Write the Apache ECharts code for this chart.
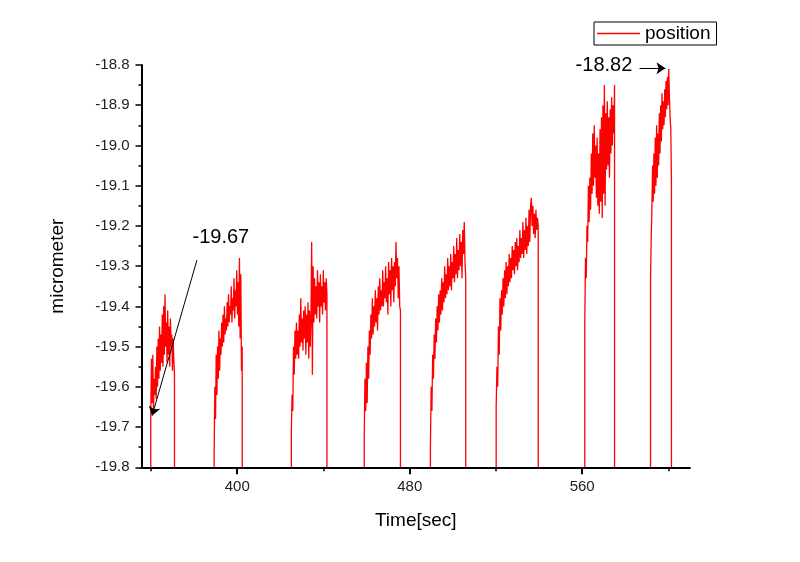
<!DOCTYPE html>
<html>
<head>
<meta charset="utf-8">
<script src="https://cdn.jsdelivr.net/npm/echarts@6/dist/echarts.min.js"></script>
<style>
html,body{margin:0;padding:0;background:#fff;}
#chart{width:800px;height:562px;}
</style>
</head>
<body>
<div id="chart"></div>
<script>
// ---- data ----
const seriesName = 'position';
const xLabelTicks = [400, 480, 560];
const xMinorTicks = [360, 440, 520, 600];
const floorValue = -19.8; // each burst rises from / falls back to the bottom of the range

const burstStart = [359.9, 389.3, 425.1, 458.9, 489.6, 520.1, 561.2, 591.7];
const burstEnd   = [370.9, 402.3, 441.6, 475.7, 506.0, 539.6, 575.0, 601.4];

const burst1 = [-19.67,-19.53,-19.64,-19.52,-19.66,-19.58,-19.62,-19.55,-19.63,-19.50,-19.60,-19.48,-19.58,-19.45,-19.56,-19.47,-19.54,-19.42,-19.55,-19.40,-19.52,-19.37,-19.50,-19.44,-19.54,-19.41,-19.52,-19.45,-19.55,-19.43,-19.50,-19.47,-19.56,-19.48,-19.53,-19.57];
const burst2 = [-19.76,-19.60,-19.68,-19.52,-19.62,-19.50,-19.58,-19.46,-19.56,-19.48,-19.52,-19.44,-19.50,-19.42,-19.49,-19.40,-19.47,-19.43,-19.46,-19.39,-19.45,-19.37,-19.44,-19.40,-19.42,-19.35,-19.44,-19.38,-19.41,-19.33,-19.43,-19.36,-19.40,-19.31,-19.42,-19.34,-19.45,-19.28,-19.48,-19.32,-19.56,-19.50];
const burst3 = [-19.71,-19.62,-19.66,-19.50,-19.57,-19.46,-19.53,-19.44,-19.52,-19.46,-19.53,-19.42,-19.50,-19.38,-19.49,-19.43,-19.51,-19.41,-19.48,-19.40,-19.52,-19.42,-19.49,-19.39,-19.53,-19.41,-19.50,-19.43,-19.24,-19.57,-19.30,-19.44,-19.33,-19.42,-19.35,-19.43,-19.31,-19.40,-19.34,-19.44,-19.32,-19.40,-19.35,-19.42,-19.31,-19.39,-19.34,-19.41,-19.33,-19.37];
const burst4 = [-19.73,-19.58,-19.66,-19.54,-19.64,-19.50,-19.58,-19.46,-19.52,-19.42,-19.48,-19.38,-19.47,-19.40,-19.45,-19.36,-19.44,-19.38,-19.46,-19.35,-19.42,-19.33,-19.41,-19.36,-19.40,-19.31,-19.40,-19.34,-19.38,-19.30,-19.39,-19.33,-19.42,-19.29,-19.37,-19.31,-19.40,-19.28,-19.36,-19.30,-19.39,-19.29,-19.35,-19.24,-19.33,-19.28,-19.38,-19.30,-19.40,-19.41];
const burst5 = [-19.75,-19.60,-19.66,-19.52,-19.58,-19.47,-19.53,-19.43,-19.49,-19.40,-19.46,-19.37,-19.44,-19.36,-19.42,-19.33,-19.41,-19.34,-19.39,-19.30,-19.38,-19.32,-19.37,-19.28,-19.36,-19.30,-19.35,-19.27,-19.36,-19.29,-19.33,-19.25,-19.34,-19.27,-19.32,-19.23,-19.33,-19.26,-19.31,-19.22,-19.30,-19.24,-19.33,-19.21,-19.27,-19.19,-19.29,-19.33];
const burst6 = [-19.65,-19.55,-19.60,-19.45,-19.52,-19.38,-19.46,-19.36,-19.42,-19.33,-19.40,-19.31,-19.38,-19.29,-19.37,-19.30,-19.35,-19.27,-19.34,-19.28,-19.33,-19.25,-19.31,-19.26,-19.32,-19.24,-19.30,-19.23,-19.31,-19.25,-19.29,-19.21,-19.28,-19.23,-19.27,-19.19,-19.28,-19.21,-19.26,-19.18,-19.27,-19.20,-19.25,-19.16,-19.24,-19.15,-19.13,-19.20,-19.15,-19.22,-19.17,-19.23,-19.16,-19.21,-19.18,-19.20];
const burst7 = [-19.44,-19.28,-19.33,-19.20,-19.24,-19.10,-19.19,-19.08,-19.16,-19.02,-19.12,-18.97,-19.10,-18.95,-19.08,-19.00,-19.13,-18.98,-19.15,-19.02,-19.17,-18.96,-19.14,-18.93,-19.18,-18.90,-19.12,-18.85,-19.15,-18.92,-19.06,-18.89,-19.05,-18.93,-19.08,-18.91,-19.02,-18.88,-19.00,-18.90,-18.97,-18.85];
const burst8 = [-19.33,-19.23,-19.16,-19.05,-19.14,-19.02,-19.12,-18.98,-19.10,-18.95,-19.08,-18.97,-19.05,-18.92,-19.02,-18.90,-18.99,-18.87,-18.96,-18.89,-18.95,-18.86,-18.93,-18.84,-18.91,-18.83,-18.90,-18.81,-18.88,-18.93,-18.96,-19.09];
const bursts = [burst1, burst2, burst3, burst4, burst5, burst6, burst7, burst8];

// annotations: label text, text position, arrow start, arrow tip (data units)
const noteLow  = {text: '-19.67', at: [392.4, -19.228], from: [381.3, -19.285], to: [360.5, -19.672]};
const noteHigh = {text: '-18.82', at: [570.1, -18.800], from: [586.6, -18.808], to: [598.6, -18.808]};

// ---- build series data (uniform sampling inside each burst, gaps between bursts) ----
const seriesData = [];
bursts.forEach((vals, b) => {
  const t0 = burstStart[b], t1 = burstEnd[b], n = vals.length;
  if (b > 0) seriesData.push([null, null]);
  seriesData.push([t0, floorValue]);
  vals.forEach((v, i) => seriesData.push([t0 + i * (t1 - t0) / (n - 1), v]));
  seriesData.push([t1, floorValue]);
});

const FONT = 'Liberation Sans, Arial, sans-serif';
const chart = echarts.init(document.getElementById('chart'));
chart.setOption({
  animation: false,
  backgroundColor: '#fff',
  textStyle: {fontFamily: FONT},
  grid: {left: 141.5, right: 110, top: 65, bottom: 94.7, containLabel: false},
  legend: {
    data: [seriesName],
    icon: 'path://M0,0H43V1.3H0Z',
    symbolKeepAspect: false,
    left: 594, top: 22,
    padding: [2, 6, 2, 3],
    borderColor: '#000', borderWidth: 1,
    itemWidth: 43, itemHeight: 1.3, itemGap: 5,
    itemStyle: {color: '#ff0000', borderWidth: 0},
    textStyle: {fontFamily: FONT, fontSize: 19, color: '#000'}
  },
  xAxis: [{
    type: 'value', min: 355.6, max: 610,
    name: 'Time[sec]', nameLocation: 'middle', nameGap: 44,
    nameTextStyle: {fontFamily: FONT, fontSize: 19, color: '#000'},
    axisLine: {show: true, onZero: false, lineStyle: {color: '#000', width: 2}},
    axisTick: {show: true, inside: false, length: 7, customValues: xLabelTicks, lineStyle: {color: '#000', width: 2}},
    axisLabel: {show: true, customValues: xLabelTicks, margin: 12, fontSize: 15, color: '#222', fontFamily: FONT},
    splitLine: {show: false}
  }, {
    type: 'value', min: 355.6, max: 610, position: 'bottom', offset: 0,
    axisLine: {show: false, onZero: false},
    axisTick: {show: true, inside: false, length: 4, customValues: xMinorTicks, lineStyle: {color: '#000', width: 1.5}},
    axisLabel: {show: false},
    splitLine: {show: false}
  }],
  yAxis: {
    type: 'value', min: -19.8, max: -18.8, interval: 0.1,
    name: 'micrometer', nameLocation: 'middle', nameGap: 74, nameRotate: 90,
    nameTextStyle: {fontFamily: FONT, fontSize: 19, color: '#000'},
    axisLine: {show: true, onZero: false, lineStyle: {color: '#000', width: 2}},
    axisTick: {show: true, inside: false, length: 6, lineStyle: {color: '#000', width: 1.5}},
    minorTick: {show: true, splitNumber: 2, length: 3, lineStyle: {color: '#000', width: 1.5}},
    axisLabel: {margin: 12, fontSize: 15, color: '#222', fontFamily: FONT, formatter: v => v.toFixed(1)},
    splitLine: {show: false}
  },
  series: [{
    name: seriesName, type: 'line', data: seriesData,
    xAxisIndex: 0, yAxisIndex: 0,
    symbol: 'none', showSymbol: false, clip: false, connectNulls: false,
    lineStyle: {color: '#ff0000', width: 1.3},
    itemStyle: {color: '#ff0000'},
    markLine: {
      silent: true, symbol: ['none', 'arrow'], symbolSize: 9,
      label: {show: false},
      lineStyle: {color: '#000', width: 1, type: 'solid'},
      emphasis: {disabled: true},
      data: [
        [{coord: noteLow.from}, {coord: noteLow.to}],
        [{coord: noteHigh.from}, {coord: noteHigh.to}]
      ]
    },
    markPoint: {
      silent: true, symbol: 'circle', symbolSize: 0,
      label: {show: true, position: 'inside', fontSize: 20, color: '#000', fontFamily: FONT,
              formatter: p => p.name},
      data: [
        {name: noteLow.text, coord: noteLow.at},
        {name: noteHigh.text, coord: noteHigh.at}
      ]
    }
  }]
});
</script>
</body>
</html>
